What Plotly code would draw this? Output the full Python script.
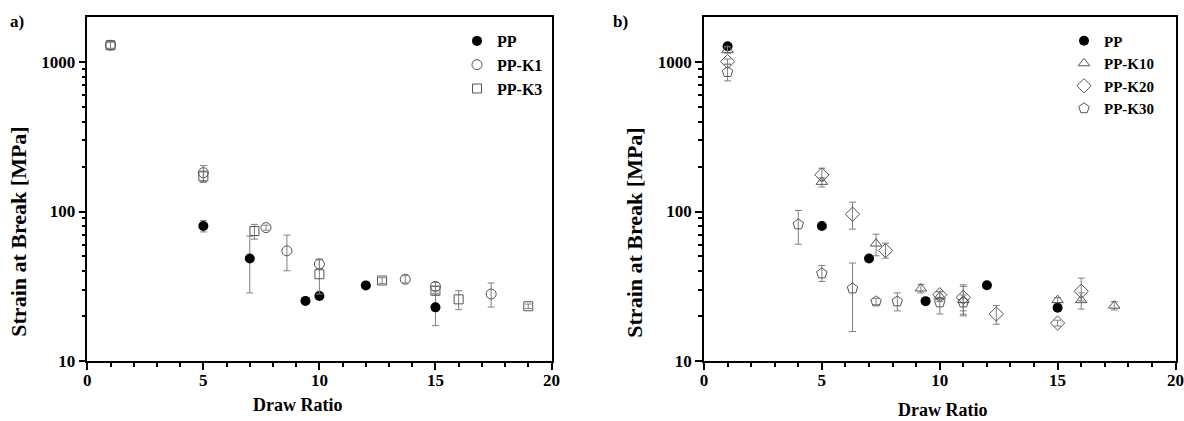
import plotly.graph_objects as go

# ---------------- data (panel a) ----------------
a_pp_x = [5, 7, 9.4, 10, 12, 15]
a_pp_y = [80, 48.5, 25.2, 27.2, 32, 22.8]
a_pp_ep = [7, 20, 1, 1.5, 1, 5.5]
a_pp_em = [7, 20, 1, 1.5, 1, 5.6]

a_k1_x = [1, 5, 7.7, 8.6, 10, 13.7, 15, 17.4]
a_k1_y = [1300, 182, 78, 54.5, 44.5, 35.2, 31.5, 28]
a_k1_ep = [60, 21, 3, 15, 3, 2, 2, 5.2]
a_k1_em = [60, 24, 3, 14.4, 3, 2, 2, 5.1]

a_k3_x = [1, 5, 7.2, 10, 12.7, 15, 16, 19]
a_k3_y = [1300, 172, 74, 38, 34.5, 29.5, 25.8, 23.2]
a_k3_ep = [80, 15, 8, 10, 1.5, 2, 3.7, 0.8]
a_k3_em = [80, 15, 8.7, 10, 1.5, 2, 3.8, 0.8]

# ---------------- data (panel b) ----------------
b_pp_x = [1, 5, 7, 9.4, 12, 15]
b_pp_y = [1280, 80, 48.4, 25.1, 32.1, 22.7]

b_k10_x = [1, 5, 7.3, 9.2, 10, 11, 15, 16, 17.4]
b_k10_y = [1210, 158, 61, 30.5, 27, 25.5, 25.5, 25.5, 23.4]
b_k10_ep = [60, 10, 9.5, 2, 2, 6, 1, 3, 1.5]
b_k10_em = [60, 12, 10.5, 2, 2, 5, 1, 3.3, 1.5]

b_k20_x = [1, 5, 6.3, 7.7, 10, 11, 12.4, 15, 16]
b_k20_y = [1010, 176, 96, 54.8, 27.7, 26.6, 20.6, 17.9, 29.2]
b_k20_ep = [40, 19, 19.5, 6.6, 1.5, 5.7, 2.9, 0.8, 6.6]
b_k20_em = [40, 15, 19.8, 6.1, 1.5, 5, 3, 0.8, 4]

b_k30_x = [1, 4, 5, 6.3, 7.3, 8.2, 10, 11]
b_k30_y = [860, 82, 38.5, 30.5, 25, 25, 24.6, 24.6]
b_k30_ep = [110, 19.6, 5, 14.7, 1.2, 3.5, 2, 3]
b_k30_em = [110, 21.6, 4.5, 14.8, 1.2, 3.4, 4, 4.6]

x_ticks = [0, 5, 10, 15, 20]
y_ticks = [10, 100, 1000]
y_ticktext = ["10", "100", "1000"]
y_minor = [20, 30, 40, 50, 60, 70, 80, 90, 200, 300, 400, 500, 600, 700, 800, 900]

FONT = "Liberation Serif"
GRAY = "#555555"
ERR = "#808080"


def err(ep, em):
    return dict(type="data", symmetric=False, array=ep, arrayminus=em,
                color=ERR, thickness=1, width=3.5)


def open_marker(symbol, size):
    return dict(symbol=symbol + "-open", size=size, color=GRAY, line=dict(width=1))


fig = go.Figure()

# panel a
fig.add_trace(go.Scatter(x=a_pp_x, y=a_pp_y, mode="markers", name="PP",
                         marker=dict(symbol="circle", size=10, color="black"),
                         error_y=err(a_pp_ep, a_pp_em), xaxis="x", yaxis="y", legend="legend"))
fig.add_trace(go.Scatter(x=a_k1_x, y=a_k1_y, mode="markers", name="PP-K1",
                         marker=open_marker("circle", 10),
                         error_y=err(a_k1_ep, a_k1_em), xaxis="x", yaxis="y", legend="legend"))
fig.add_trace(go.Scatter(x=a_k3_x, y=a_k3_y, mode="markers", name="PP-K3",
                         marker=open_marker("square", 9),
                         error_y=err(a_k3_ep, a_k3_em), xaxis="x", yaxis="y", legend="legend"))

# panel b
fig.add_trace(go.Scatter(x=b_pp_x, y=b_pp_y, mode="markers", name="PP",
                         marker=dict(symbol="circle", size=10, color="black"),
                         xaxis="x2", yaxis="y2", legend="legend2"))
fig.add_trace(go.Scatter(x=b_k10_x, y=b_k10_y, mode="markers", name="PP-K10",
                         marker=open_marker("triangle-up", 10),
                         error_y=err(b_k10_ep, b_k10_em), xaxis="x2", yaxis="y2", legend="legend2"))
fig.add_trace(go.Scatter(x=b_k20_x, y=b_k20_y, mode="markers", name="PP-K20",
                         marker=open_marker("diamond", 11),
                         error_y=err(b_k20_ep, b_k20_em), xaxis="x2", yaxis="y2", legend="legend2"))
fig.add_trace(go.Scatter(x=b_k30_x, y=b_k30_y, mode="markers", name="PP-K30",
                         marker=open_marker("pentagon", 11),
                         error_y=err(b_k30_ep, b_k30_em), xaxis="x2", yaxis="y2", legend="legend2"))

W, H = 1184, 421
tickfont = dict(family=FONT, size=17, color="black", weight="bold")


def xax(domain, anchor):
    return dict(domain=domain, anchor=anchor, range=[0, 20], tickmode="array", tickvals=x_ticks,
                ticks="outside", ticklen=7, tickwidth=1.5, tickcolor="black",
                showline=True, linecolor="black", linewidth=1.5, mirror=True,
                showgrid=False, zeroline=False, tickfont=tickfont, automargin=False,
                ticklabelstandoff=-4,
                minor=dict(dtick=1, tick0=0, ticks="outside", ticklen=4, tickwidth=1.5,
                           tickcolor="black", showgrid=False))


def yax(domain, anchor):
    return dict(domain=domain, anchor=anchor, type="log", range=[1, 3.30103],
                tickmode="array", tickvals=y_ticks, ticktext=y_ticktext,
                ticks="outside", ticklen=7, tickwidth=1.5, tickcolor="black",
                showline=True, linecolor="black", linewidth=1.5, mirror=True,
                showgrid=False, zeroline=False, tickfont=tickfont, automargin=False,
                minor=dict(tickmode="array", tickvals=y_minor, ticks="outside", ticklen=4,
                           tickwidth=1.5, tickcolor="black", showgrid=False))


ydom = [1 - 360.8 / H, 1 - 17.3 / H]

fig.update_layout(
    width=W, height=H, margin=dict(l=0, r=0, t=0, b=0, pad=0, autoexpand=False),
    paper_bgcolor="white", plot_bgcolor="white",
    xaxis=xax([87.3 / W, 551.5 / W], "y"),
    yaxis=yax(ydom, "x"),
    xaxis2=xax([704 / W, 1175.5 / W], "y2"),
    yaxis2=yax(ydom, "x2"),
    legend=dict(x=457 / W, y=1 - 24 / H, xanchor="left", yanchor="top",
                font=dict(family=FONT, size=16, color="black", weight="bold"),
                bgcolor="rgba(0,0,0,0)", tracegroupgap=0),
    legend2=dict(x=1064 / W, y=1 - 24.5 / H, xanchor="left", yanchor="top",
                 font=dict(family=FONT, size=15, color="black", weight="bold"),
                 bgcolor="rgba(0,0,0,0)", tracegroupgap=0),
    showlegend=True,
)

ann = [
    dict(text="a)", x=8 / W, y=1 - 22 / H, xanchor="left", yanchor="middle", font=dict(size=17)),
    dict(text="b)", x=611 / W, y=1 - 22 / H, xanchor="left", yanchor="middle", font=dict(size=17)),
    dict(text="Strain at Break [MPa]", x=18.7 / W, y=1 - 232 / H, textangle=-90,
         xanchor="center", yanchor="middle", font=dict(size=22)),
    dict(text="Strain at Break [MPa]", x=634.7 / W, y=1 - 233 / H, textangle=-90,
         xanchor="center", yanchor="middle", font=dict(size=22)),
    dict(text="Draw Ratio", x=297 / W, y=1 - 405 / H, xanchor="center", yanchor="middle", font=dict(size=18)),
    dict(text="Draw Ratio", x=942 / W, y=1 - 410 / H, xanchor="center", yanchor="middle", font=dict(size=18)),
]
for a in ann:
    a["font"].update(family=FONT, color="black", weight="bold")
    a.update(xref="paper", yref="paper", showarrow=False)
    fig.add_annotation(**a)

fig.write_html("out.html")
